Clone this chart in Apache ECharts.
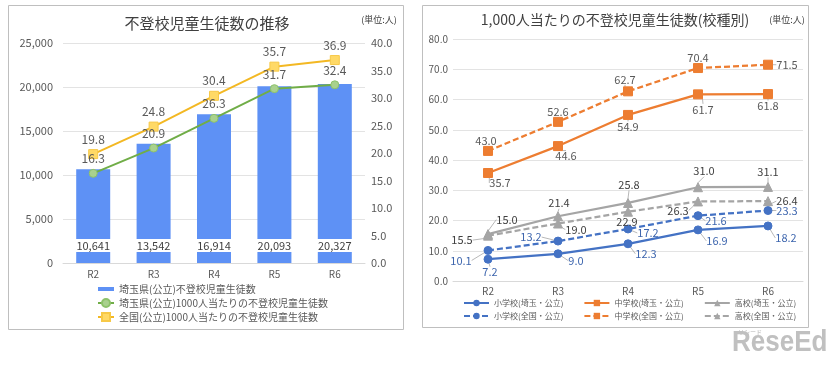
<!DOCTYPE html>
<html>
<head>
<meta charset="utf-8">
<script src="https://cdn.jsdelivr.net/npm/echarts@6/dist/echarts.min.js"></script>
<style>
html,body{margin:0;padding:0;background:#fff;}
#chart{width:826px;height:365px;}
</style>
</head>
<body>
<div id="chart"></div>
<script>
// ---- data ----
const categories = ['R2', 'R3', 'R4', 'R5', 'R6'];
// left chart
const saitamaCount = [10641, 13542, 16914, 20093, 20327];
const saitamaRate = [16.3, 20.9, 26.3, 31.7, 32.4];
const nationalRate = [19.8, 24.8, 30.4, 35.7, 36.9];
const leftCountAxis = { min: 0, max: 25000, interval: 5000 };
const leftRateAxis = { min: 0, max: 40, interval: 5 };
// right chart
const elemSaitama = [7.2, 9.0, 12.3, 16.9, 18.2];
const juniorSaitama = [35.7, 44.6, 54.9, 61.7, 61.8];
const highSaitama = [15.5, 21.4, 25.8, 31.0, 31.1];
const elemNational = [10.1, 13.2, 17.2, 21.6, 23.3];
const juniorNational = [43.0, 52.6, 62.7, 70.4, 71.5];
const highNational = [15.0, 19.0, 22.9, 26.3, 26.4];
const rightAxis = { min: 0, max: 80, interval: 10 };

const leftTitle = '不登校児童生徒数の推移';
const rightTitle = '1,000人当たりの不登校児童生徒数(校種別)';
const unitText = '(単位:人)';
const nameCount = '埼玉県(公立)不登校児童生徒数';
const nameSaitamaRate = '埼玉県(公立)1000人当たりの不登校児童生徒数';
const nameNationalRate = '全国(公立)1000人当たりの不登校児童生徒数';
const nameElemS = '小学校(埼玉・公立)', nameJunS = '中学校(埼玉・公立)', nameHighS = '高校(埼玉・公立)';
const nameElemN = '小学校(全国・公立)', nameJunN = '中学校(全国・公立)', nameHighN = '高校(全国・公立)';

// ---- label placement (styles) ----
const offElemS = [[2,13],[18,7],[18,10],[19,11],[18,12]];
const offJunS = [[12,10],[8,10],[0,12],[5,15],[0,12]];
const offHighS = [[-26,6],[1,-13],[1,-18],[6,-16],[0,-15]];
const offElemN = [[-27,10],[-27,-4],[20,4],[18,5],[19,0]];
const offJunN = [[-2,-10],[0,-10],[-3,-12],[0,-10],[19,0]];
const offHighN = [[19,-16],[18,6],[-1,10],[-20,9],[19,0]];

const FONT = '"Noto Sans CJK JP", "Noto Sans", sans-serif';
const BLUE = '#4472C4', ORANGE = '#ED7D31', GREY = '#A5A5A5';

function rightSeries(name, data, color, symbol, size, dashed, offs, labelColor) {
  return {
    name, type: 'line', xAxisIndex: 1, yAxisIndex: 2, data,
    symbol, symbolSize: size,
    lineStyle: { color, width: 2.25, type: dashed ? [6, 3] : 'solid' },
    itemStyle: { color, borderColor: color },
    label: {
      show: true, position: 'inside', fontSize: 11, fontFamily: FONT,
      color: labelColor, formatter: p => p.value.toFixed(1)
    },
    labelLayout: p => ({ dx: offs[p.dataIndex][0], dy: offs[p.dataIndex][1] }),
    labelLine: { show: true, lineStyle: { color: '#a6a6a6', width: 0.8 } },
    z: 3
  };
}

const chart = echarts.init(document.getElementById('chart'), null, { renderer: 'canvas' });
const axisLabelStyle = { color: '#595959', fontSize: 11, fontFamily: FONT };

chart.setOption({
  animation: false,
  textStyle: { fontFamily: FONT },
  graphic: [
    { type: 'rect', shape: { x: 8.5, y: 5.5, width: 395, height: 324 }, style: { fill: 'none', stroke: '#bfbfbf', lineWidth: 1 }, silent: true },
    { type: 'rect', shape: { x: 422.5, y: 5.5, width: 386, height: 322 }, style: { fill: 'none', stroke: '#bfbfbf', lineWidth: 1 }, silent: true },
    { type: 'text', style: { text: leftTitle, x: 207, y: 23, textAlign: 'center', textVerticalAlign: 'middle', fontSize: 15, fontFamily: FONT, fill: '#404040' } },
    { type: 'text', style: { text: unitText, x: 379, y: 20, textAlign: 'center', textVerticalAlign: 'middle', fontSize: 9, fontFamily: FONT, fill: '#404040' } },
    { type: 'text', style: { text: rightTitle, x: 615, y: 20, textAlign: 'center', textVerticalAlign: 'middle', fontSize: 14, fontFamily: FONT, fill: '#404040' } },
    { type: 'text', style: { text: unitText, x: 787, y: 20, textAlign: 'center', textVerticalAlign: 'middle', fontSize: 9, fontFamily: FONT, fill: '#404040' } },
    { type: 'text', style: { text: 'リシード', x: 750, y: 332, textAlign: 'center', textVerticalAlign: 'middle', fontSize: 6, fontFamily: FONT, fill: '#b5b5b5' } },
    { type: 'text', x: 732, y: 343, scaleY: 1.15, style: { text: 'ReseEd', x: 0, y: 0, textAlign: 'left', textVerticalAlign: 'middle', fontSize: 26, fontWeight: 'bold', fontFamily: '"Liberation Sans", sans-serif', fill: '#c0c0c0' } }
  ],
  grid: [
    { left: 63, top: 43, width: 302, height: 220 },
    { left: 453, top: 39, width: 350, height: 242 }
  ],
  legend: [
    {
      orient: 'vertical', left: 97, top: 284, padding: 0, itemGap: 4,
      itemWidth: 16, itemHeight: 10,
      textStyle: { fontSize: 10, color: '#595959', fontFamily: FONT },
      data: [
        { name: nameCount, icon: 'path://M0,3h16v4h-16zM0,0h0.01v0.01zM0,10h0.01v0.01z' },
        { name: nameSaitamaRate },
        { name: nameNationalRate }
      ]
    },
    {
      left: 463, top: 299, padding: 0, itemGap: 20, itemWidth: 25, itemHeight: 8,
      textStyle: { fontSize: 8, color: '#595959', fontFamily: FONT, width: 67 },
      data: [nameElemS, nameJunS, nameHighS]
    },
    {
      left: 463, top: 312, padding: 0, itemGap: 20, itemWidth: 25, itemHeight: 8,
      textStyle: { fontSize: 8, color: '#595959', fontFamily: FONT, width: 67 },
      data: [nameElemN, nameJunN, nameHighN]
    }
  ],
  xAxis: [
    {
      gridIndex: 0, type: 'category', data: categories,
      axisTick: { show: false }, axisLine: { lineStyle: { color: '#d9d9d9' } },
      axisLabel: { color: '#595959', fontSize: 10, margin: 6, fontFamily: FONT }
    },
    {
      gridIndex: 1, type: 'category', data: categories,
      axisTick: { show: false }, axisLine: { lineStyle: { color: '#d9d9d9' } },
      axisLabel: { color: '#595959', fontSize: 10, margin: 5, fontFamily: FONT }
    }
  ],
  yAxis: [
    {
      gridIndex: 0, type: 'value', min: leftCountAxis.min, max: leftCountAxis.max, interval: leftCountAxis.interval,
      axisLine: { show: false }, axisTick: { show: false },
      splitLine: { lineStyle: { color: '#e3e3e3' } },
      axisLabel: Object.assign({ margin: 10, formatter: v => v.toLocaleString('en-US') }, axisLabelStyle)
    },
    {
      gridIndex: 0, type: 'value', position: 'right', min: leftRateAxis.min, max: leftRateAxis.max, interval: leftRateAxis.interval,
      axisLine: { show: false }, axisTick: { show: false }, splitLine: { show: false },
      axisLabel: Object.assign({ margin: 6, formatter: v => v.toFixed(1) }, axisLabelStyle)
    },
    {
      gridIndex: 1, type: 'value', min: rightAxis.min, max: rightAxis.max, interval: rightAxis.interval,
      axisLine: { show: false }, axisTick: { show: false },
      splitLine: { lineStyle: { color: '#e3e3e3' } },
      axisLabel: { color: '#595959', fontSize: 10, margin: 5, fontFamily: FONT, formatter: v => v.toFixed(1) }
    }
  ],
  series: [
    {
      name: nameCount, type: 'bar', xAxisIndex: 0, yAxisIndex: 0, data: saitamaCount,
      barWidth: 34, itemStyle: { color: '#5E91F5' },
      label: {
        show: true, position: 'insideBottom', distance: 11,
        backgroundColor: '#ffffff', width: 36, align: 'center', padding: [1, 0, 0, 0], lineHeight: 12,
        fontSize: 11, color: '#404040', fontFamily: FONT,
        formatter: p => p.value.toLocaleString('en-US')
      },
      z: 2
    },
    {
      name: nameSaitamaRate, type: 'line', xAxisIndex: 0, yAxisIndex: 1, data: saitamaRate,
      symbol: 'circle', symbolSize: 8,
      lineStyle: { color: '#70AD47', width: 2 },
      itemStyle: { color: '#A9D18E', borderColor: '#8DC26B', borderWidth: 1 },
      label: { show: true, position: 'top', distance: 4, fontSize: 12, color: '#595959', fontFamily: FONT, formatter: p => p.value.toFixed(1) },
      z: 4
    },
    {
      name: nameNationalRate, type: 'line', xAxisIndex: 0, yAxisIndex: 1, data: nationalRate,
      symbol: 'rect', symbolSize: 9,
      lineStyle: { color: '#F3B823', width: 2 },
      itemStyle: { color: '#FFD966', borderColor: '#F7C948', borderWidth: 1 },
      label: { show: true, position: 'top', distance: 4, fontSize: 12, color: '#595959', fontFamily: FONT, formatter: p => p.value.toFixed(1) },
      z: 4
    },
    rightSeries(nameElemS, elemSaitama, BLUE, 'circle', 8, false, offElemS, '#3E66AE'),
    rightSeries(nameJunS, juniorSaitama, ORANGE, 'rect', 9, false, offJunS, '#595959'),
    rightSeries(nameHighS, highSaitama, GREY, 'triangle', 9, false, offHighS, '#404040'),
    rightSeries(nameElemN, elemNational, BLUE, 'circle', 8, true, offElemN, '#3E66AE'),
    rightSeries(nameJunN, juniorNational, ORANGE, 'rect', 9, true, offJunN, '#595959'),
    rightSeries(nameHighN, highNational, GREY, 'triangle', 9, true, offHighN, '#404040')
  ]
});
</script>
</body>
</html>
